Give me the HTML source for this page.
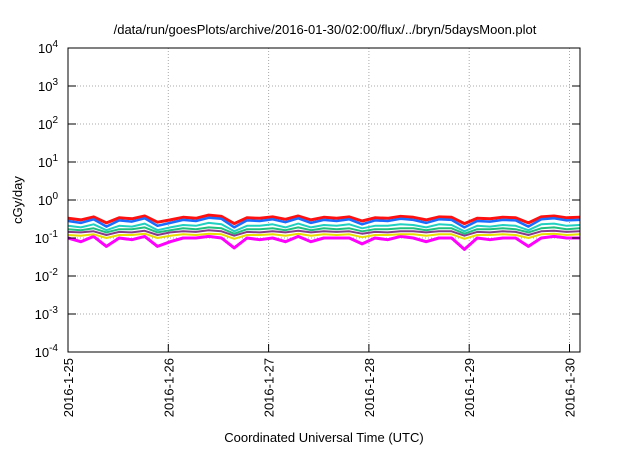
<!DOCTYPE html>
<html><head><meta charset="utf-8"><style>
body{margin:0;background:#fff;font-family:"Liberation Sans",sans-serif}
svg text{font-family:"Liberation Sans",sans-serif;fill:#000}
</style></head><body>
<svg id="c" width="640" height="448" xmlns="http://www.w3.org/2000/svg">
<rect width="640" height="448" fill="#fff"/>
<text x="325" y="34" font-size="13" text-anchor="middle">/data/run/goesPlots/archive/2016-01-30/02:00/flux/../bryn/5daysMoon.plot</text>
<text transform="translate(22,200) rotate(-90)" font-size="13" text-anchor="middle">cGy/day</text>
<text x="324" y="442" font-size="13" text-anchor="middle">Coordinated Universal Time (UTC)</text>
<g id="grid"></g><g id="series"></g><g id="axes"></g>
</svg>
<script>
const xTickLabels=["2016-1-25","2016-1-26","2016-1-27","2016-1-28","2016-1-29","2016-1-30"];
const yTickExps=[-4,-3,-2,-1,0,1,2,3,4];
const red=[0.33,0.30,0.36,0.25,0.34,0.32,0.38,0.26,0.30,0.35,0.33,0.40,0.37,0.24,0.34,0.33,0.36,0.31,0.38,0.30,0.35,0.33,0.36,0.28,0.34,0.33,0.37,0.35,0.30,0.36,0.35,0.24,0.33,0.32,0.35,0.34,0.25,0.36,0.38,0.34,0.35];
const blue=[0.28,0.25,0.31,0.20,0.29,0.27,0.33,0.21,0.25,0.30,0.28,0.34,0.32,0.19,0.29,0.28,0.31,0.26,0.33,0.25,0.30,0.28,0.31,0.23,0.29,0.28,0.32,0.30,0.25,0.31,0.30,0.19,0.28,0.27,0.30,0.29,0.20,0.31,0.33,0.29,0.30];
const cyan=[0.21,0.19,0.23,0.16,0.21,0.20,0.24,0.16,0.19,0.22,0.21,0.25,0.23,0.15,0.21,0.21,0.23,0.19,0.24,0.19,0.22,0.21,0.23,0.18,0.21,0.21,0.23,0.22,0.19,0.23,0.22,0.15,0.21,0.20,0.22,0.21,0.16,0.23,0.24,0.21,0.22];
const green=[0.17,0.16,0.18,0.14,0.17,0.17,0.19,0.14,0.16,0.18,0.17,0.19,0.18,0.13,0.17,0.17,0.18,0.16,0.19,0.16,0.18,0.17,0.18,0.15,0.17,0.17,0.18,0.18,0.16,0.18,0.18,0.13,0.17,0.17,0.18,0.17,0.14,0.18,0.19,0.17,0.18];
const purple=[0.145,0.14,0.15,0.12,0.145,0.14,0.155,0.12,0.14,0.15,0.145,0.16,0.15,0.115,0.145,0.14,0.15,0.14,0.155,0.14,0.15,0.145,0.15,0.13,0.145,0.14,0.15,0.15,0.14,0.15,0.15,0.115,0.145,0.14,0.15,0.145,0.12,0.15,0.155,0.145,0.15];
const yellow=[0.12,0.115,0.125,0.10,0.12,0.12,0.13,0.10,0.115,0.125,0.12,0.13,0.125,0.095,0.12,0.12,0.125,0.115,0.13,0.115,0.125,0.12,0.125,0.105,0.12,0.12,0.125,0.125,0.115,0.125,0.125,0.095,0.12,0.12,0.125,0.12,0.10,0.125,0.13,0.12,0.125];
const magenta=[0.10,0.08,0.11,0.06,0.10,0.09,0.11,0.06,0.08,0.10,0.10,0.11,0.10,0.055,0.10,0.09,0.10,0.08,0.11,0.08,0.10,0.10,0.10,0.07,0.10,0.09,0.11,0.10,0.08,0.10,0.10,0.05,0.10,0.09,0.10,0.10,0.06,0.10,0.11,0.10,0.10];
const seriesList=[["magenta",magenta,"#ff00ff",3],["yellow",yellow,"#e8e000",2],["purple",purple,"#8a3a8a",2],["green",green,"#20c080",2],["cyan",cyan,"#20d0c0",2],["red",red,"#ff1010",3],["blue",blue,"#1a6cff",2.5]];
const L=68,R=580,T=48,B=352,pxDay=100.3;
const X=d=>L+d*pxDay;
const Y=v=>T+(4-Math.log10(v))*(B-T)/8;
const ns="http://www.w3.org/2000/svg";
function mk(tag,a,p){const e=document.createElementNS(ns,tag);for(const k in a)e.setAttribute(k,a[k]);p.appendChild(e);return e;}
const grid=document.getElementById('grid'),ax=document.getElementById('axes'),sg=document.getElementById('series');
yTickExps.forEach(e=>{const y=Y(Math.pow(10,e));
 if(e>-4&&e<4){const g=mk('line',{x1:L,x2:R,y1:y,y2:y,stroke:'#aaa','stroke-dasharray':'1,2','stroke-width':1},grid);
 
 }
 const t=mk('line',{x1:L,x2:L+8,y1:y,y2:y,stroke:'#000'},ax);
 
 
 const t2=mk('line',{x1:R-8,x2:R,y1:y,y2:y,stroke:'#000'},ax);
 
 
 const tx=mk('text',{x:L-10,y:y+5,'font-size':13,'text-anchor':'end'},ax);
 
 
 tx.innerHTML='10<tspan dy="-6" font-size="10">'+e+'</tspan>';
});
xTickLabels.forEach((s,i)=>{const x=X(i);
 if(i>0){const g=mk('line',{x1:x,x2:x,y1:T,y2:B,stroke:'#aaa','stroke-dasharray':'1,2'},grid);
 
 }
 const t=mk('line',{x1:x,x2:x,y1:B-8,y2:B,stroke:'#000'},ax);
 
 
 const tx=mk('text',{transform:`translate(${x+5},358) rotate(-90)`,'font-size':13,'text-anchor':'end'},ax);
 
 
 tx.textContent=s;
});
const fr=mk('rect',{x:L,y:T,width:R-L,height:B-T,fill:'none',stroke:'#000','stroke-width':1},ax);


seriesList.forEach(([n,arr,c,w])=>{
 const pts=arr.map((v,i)=>X(i*5.1/(arr.length-1)).toFixed(1)+','+Y(v).toFixed(1)).join(' ');
 const p=mk('polyline',{points:pts,fill:'none',stroke:c,'stroke-width':w,'stroke-linejoin':'round'},sg);
 
 
});
</script>
</body></html>
